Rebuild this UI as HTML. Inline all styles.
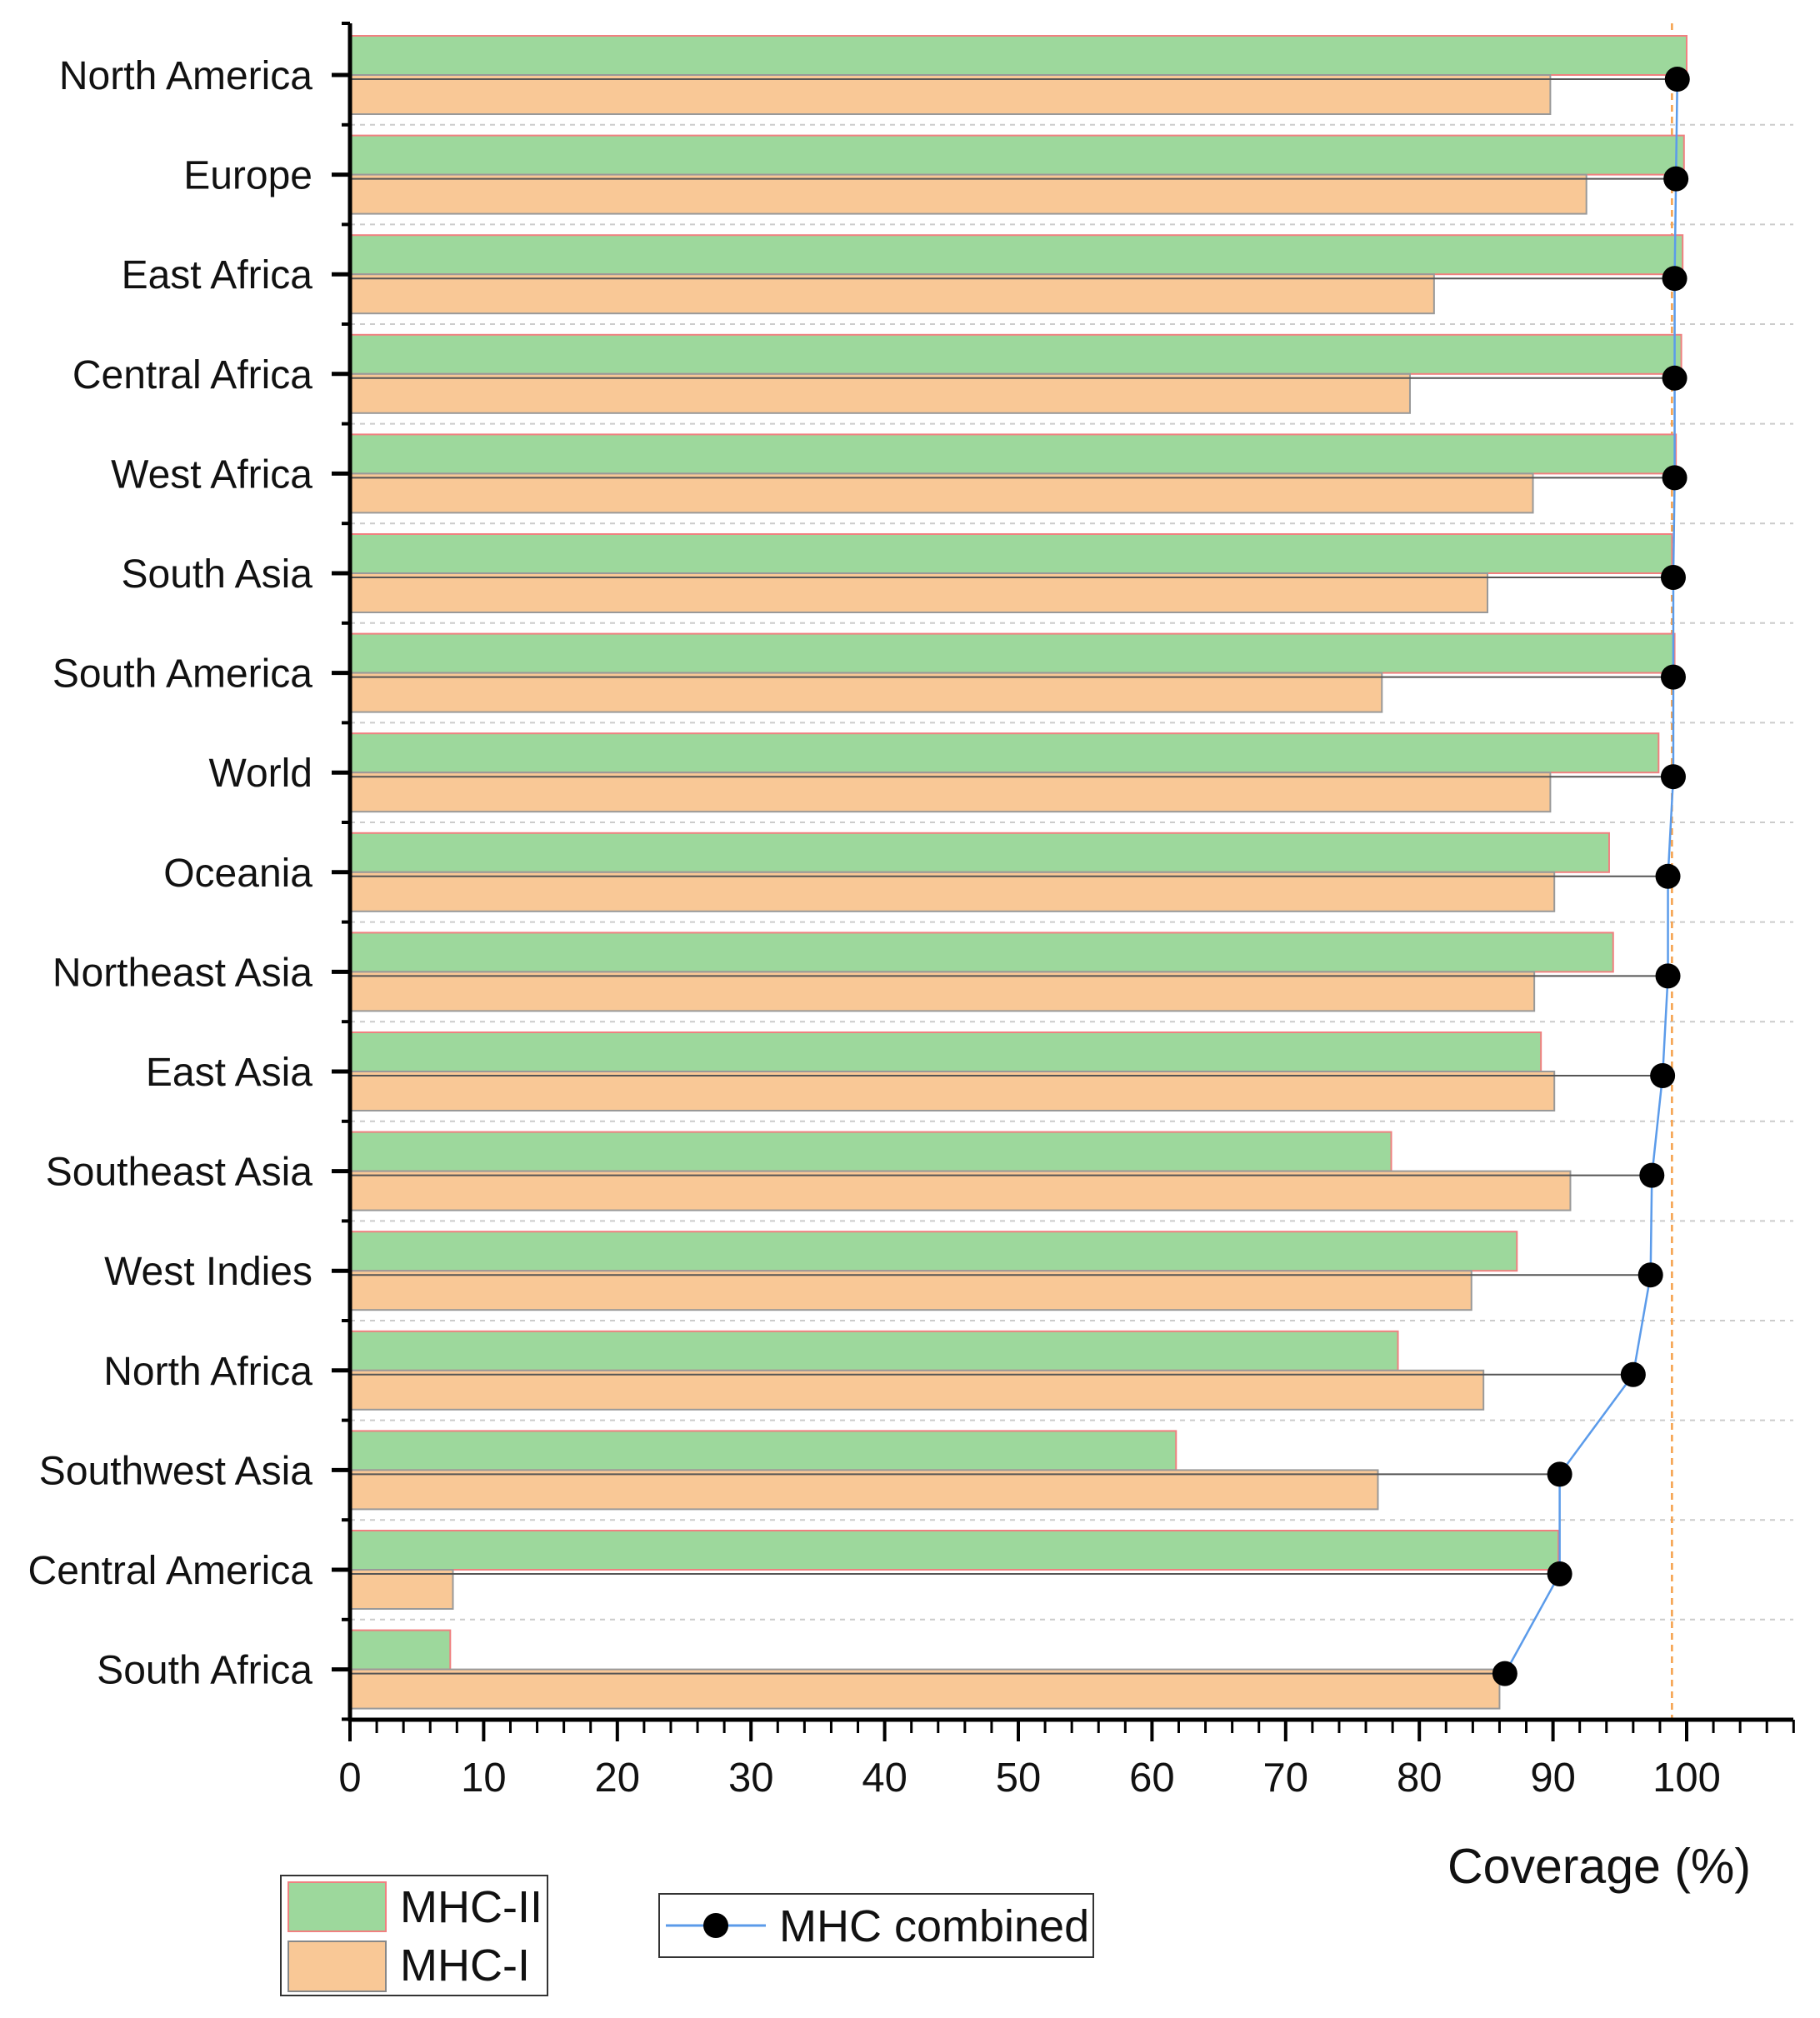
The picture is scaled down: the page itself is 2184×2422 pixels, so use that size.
<!DOCTYPE html>
<html><head><meta charset="utf-8"><style>
body{margin:0;background:#fff}
svg{display:block}
text{font-family:"Liberation Sans",sans-serif;fill:#111}
</style></head><body>
<svg id="chart" width="2184" height="2422" viewBox="0 0 2184 2422">
<g id="grid"></g><g id="bars"></g><g id="line"></g><g id="axes"></g><g id="labels"></g>
<g>
<rect x="337" y="2251" width="320" height="144" fill="#fff" stroke="#333" stroke-width="2"/>
<rect x="346" y="2259" width="117" height="59" fill="#9dd89c" stroke="#f08080" stroke-width="2"/>
<text x="480" y="2307" font-size="54">MHC-II</text>
<rect x="346" y="2330" width="117" height="60" fill="#f9c896" stroke="#888" stroke-width="2"/>
<text x="480" y="2377" font-size="54">MHC-I</text>
</g>
<g>
<rect x="791" y="2273" width="521" height="76" fill="#fff" stroke="#333" stroke-width="2"/>
<line x1="799" y1="2311" x2="919" y2="2311" stroke="#5b9bea" stroke-width="3"/>
<circle cx="859" cy="2311" r="15" fill="#000"/>
<text x="935" y="2330" font-size="54">MHC combined</text>
</g>
<text x="2101" y="2260" font-size="59" text-anchor="end">Coverage (%)</text>
</svg>
<script>
const categories=["North America","Europe","East Africa","Central Africa","West Africa","South Asia","South America","World","Oceania","Northeast Asia","East Asia","Southeast Asia","West Indies","North Africa","Southwest Asia","Central America","South Africa"];
const mhcII=[100,99.8,99.7,99.6,99.2,98.9,99.1,97.9,94.2,94.5,89.1,77.9,87.3,78.4,61.8,90.4,7.5];
const mhcI=[89.8,92.5,81.1,79.3,88.5,85.1,77.2,89.8,90.1,88.6,90.1,91.3,83.9,84.8,76.9,7.7,86.0];
const combined=[99.3,99.2,99.1,99.1,99.1,99.0,99.0,99.0,98.6,98.6,98.2,97.4,97.3,96.0,90.5,90.5,86.4];
const xTicks=[0,10,20,30,40,50,60,70,80,90,100];
const refLine=98.9;
const NS="http://www.w3.org/2000/svg";
const X0=420,X100=2024,Y0=90,STEP=119.6,HALF=47,AXB=2064,AXT=28,AXR=2152,PDY=5;
const xs=v=>X0+(X100-X0)*v/100;
const ys=i=>Y0+i*STEP;
function mk(p,tag,attrs){const e=document.createElementNS(NS,tag);for(const k in attrs)e.setAttribute(k,attrs[k]);document.getElementById(p).appendChild(e);return e;}
for(let i=0;i<categories.length-1;i++){
 const g=mk('grid','line',{x1:X0,x2:AXR,y1:ys(i)+STEP/2,y2:ys(i)+STEP/2,stroke:'#ccc','stroke-width':2,'stroke-dasharray':'6 6'});
 
 
}
const rl=mk('grid','line',{x1:xs(refLine),x2:xs(refLine),y1:AXT,y2:AXB,stroke:'#f5a04a','stroke-width':2.5,'stroke-dasharray':'8 6'});


categories.forEach((c,i)=>{
 const y=ys(i);
 const g=mk('bars','rect',{x:X0,y:y-HALF,width:xs(mhcII[i])-X0,height:HALF,fill:'#9dd89c',stroke:'#f08080','stroke-width':2});
 
 
 const o=mk('bars','rect',{x:X0,y:y,width:xs(mhcI[i])-X0,height:HALF,fill:'#f9c896',stroke:'#999','stroke-width':2});
 
 
 const d=mk('bars','line',{x1:X0,x2:xs(combined[i]),y1:y+PDY,y2:y+PDY,stroke:'#555','stroke-width':2});
 
 
 const t=mk('labels','text',{x:375,y:y+17,'font-size':48,'text-anchor':'end'});
 t.textContent=c;
 
 
 mk('axes','line',{x1:398,x2:X0,y1:y,y2:y,stroke:'#000','stroke-width':5});
 mk('axes','line',{x1:410,x2:X0,y1:y+STEP/2,y2:y+STEP/2,stroke:'#000','stroke-width':4});
});
mk('axes','line',{x1:410,x2:X0,y1:AXT,y2:AXT,stroke:'#000','stroke-width':4});
const pts=combined.map((v,i)=>xs(v)+','+(ys(i)+PDY)).join(' ');
const pl=mk('line','polyline',{points:pts,fill:'none',stroke:'#5b9bea','stroke-width':2.5});


combined.forEach((v,i)=>{
 const c=mk('line','circle',{cx:xs(v),cy:ys(i)+PDY,r:15,fill:'#000'});
 
 
});
mk('axes','line',{x1:X0,x2:X0,y1:AXT,y2:AXB+2,stroke:'#000','stroke-width':5});
mk('axes','line',{x1:X0-2,x2:AXR,y1:AXB,y2:AXB,stroke:'#000','stroke-width':5});
for(let v=0;v<=108;v+=2){
 const major=v%10===0;
 mk('axes','line',{x1:xs(v),x2:xs(v),y1:AXB,y2:AXB+(major?26:16),stroke:'#000','stroke-width':major?4:3});
}
xTicks.forEach(v=>{
 const t=mk('labels','text',{x:xs(v),y:2150,'font-size':49,'text-anchor':'middle'});
 t.textContent=v;
 
 
});
</script>
</body></html>
